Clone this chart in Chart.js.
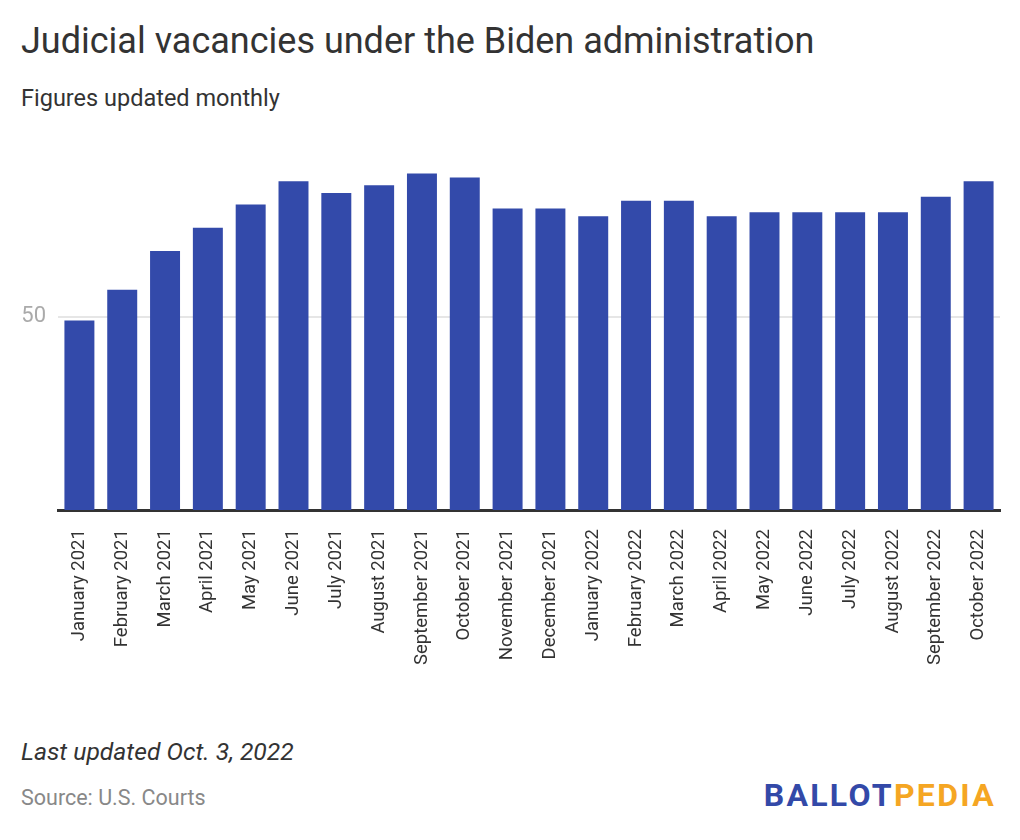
<!DOCTYPE html>
<html>
<head>
<meta charset="utf-8">
<script src="https://cdn.jsdelivr.net/npm/chart.js@4"></script>
<style>
  body { margin:0; background:#fff; font-family: Roboto, sans-serif; width:1020px; height:840px; position:relative; overflow:hidden; }
  #title { position:absolute; left:21px; top:20px; font-size:36px; color:#333; }
  #sub { position:absolute; left:21px; top:84px; font-size:23.5px; color:#333; }
  #wrap { position:absolute; left:0; top:130px; width:1020px; height:560px; }
  #updated { position:absolute; left:21px; top:737px; font-size:24.7px; font-style:italic; color:#333; }
  #source { position:absolute; left:21px; top:785px; font-size:21.5px; color:#888; }
  #logo { position:absolute; right:24px; top:776px; font-size:32px; font-weight:bold; letter-spacing:2.3px; }
</style>
</head>
<body>
<div id="title">Judicial vacancies under the Biden administration</div>
<div id="sub">Figures updated monthly</div>
<div id="wrap"><canvas id="myChart"></canvas></div>
<div id="updated">Last updated Oct. 3, 2022</div>
<div id="source">Source: U.S. Courts</div>
<div id="logo"><span style="color:#3349a8">BALLOT</span><span style="color:#f5a623">PEDIA</span></div>
<script>
const months = ['January 2021', 'February 2021', 'March 2021', 'April 2021', 'May 2021', 'June 2021',
    'July 2021', 'August 2021', 'September 2021', 'October 2021', 'November 2021', 'December 2021',
    'January 2022', 'February 2022', 'March 2022', 'April 2022', 'May 2022', 'June 2022',
    'July 2022', 'August 2022', 'September 2022', 'October 2022']
const vacancies = [49, 57, 67, 73, 79, 85, 82, 84, 87, 86, 78, 78, 76, 80, 80, 76, 77, 77, 77, 77, 81, 85]
const yTicks = [50]

const ctx = document.getElementById('myChart').getContext('2d')
const myChart = new Chart(ctx, {
    type: 'bar',
    data: {
        labels: months,
        datasets: [{
            label: 'Vacancies',
            data: vacancies,
            backgroundColor: '#334aaa',
            barPercentage: 0.7,
            categoryPercentage: 1
        }]
    },
    options: {
        responsive: true,
        maintainAspectRatio: false,
        animation: false,
        layout: { padding: { top: 32, right: 20, bottom: 14, left: 0 } },
        plugins: {
            legend: { display: false },
            tooltip: { enabled: false }
        },
        scales: {
            x: {
                grid: { display: false },
                border: { display: true, color: '#333', width: 3 },
                ticks: {
                    maxRotation: 90, minRotation: 90,
                    color: '#333',
                    padding: 11,
                    font: { family: 'Roboto', size: 18.5 }
                }
            },
            y: {
                min: 0, max: 90,
                afterBuildTicks: scale => { scale.ticks = yTicks.map(v => ({ value: v })) },
                afterFit: scale => { scale.width = 58 },
                border: { display: false },
                grid: { color: '#e6e6e6', lineWidth: 2, drawTicks: false },
                ticks: {
                    color: '#aaa',
                    padding: 12,
                    font: { family: 'Roboto', size: 22 }
                }
            }
        }
    }
})
</script>
</body>
</html>
